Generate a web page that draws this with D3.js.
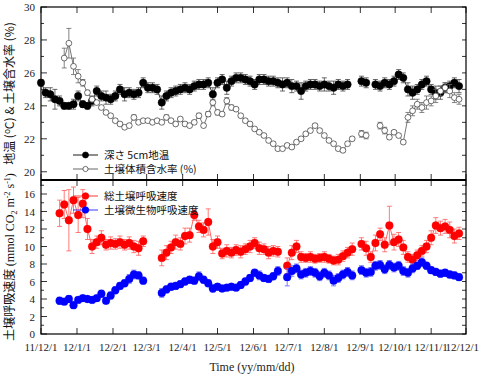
<!DOCTYPE html>
<html>
<head>
<meta charset="utf-8">
<script src="https://cdn.jsdelivr.net/npm/d3@7"></script>
<style>
  body { margin: 0; background: #fff; }
  .num { font-family: "Liberation Serif", "Times New Roman", serif; font-size: 11px; fill: #222; }
  .jp { font-family: "Noto Sans CJK JP", sans-serif; font-size: 10.5px; fill: #111; }
</style>
</head>
<body>
<div id="chart"></div>
<script>
// samples every 4 days, day 0 = 2011/12/1
const STEP = 4;
const xTickLabels = ['11/12/1','12/1/1','12/2/1','12/3/1','12/4/1','12/5/1','12/6/1',
    '12/7/1','12/8/1','12/9/1','12/10/1','12/11/1','12/12/1'];
const topTicks = [20, 22, 24, 26, 28, 30];
const botTicks = [0, 2, 4, 6, 8, 10, 12, 14, 16];

// 深さ 5cm地温 (starts at sample 0)
const tempStart = 0;
const tempVals = [25.4, 24.8, 24.7, 24.4, 24.3, 24.0, 24.0, 24.1, 24.6, 24.1,
    24.0, 24.3, 24.9, 24.6, 24.5, 24.4, 24.6, 25.0, 24.7, 24.8,
    24.7, 24.8, 25.4, 25.1, 25.1, 25.0, 24.2, 24.6, 24.8, 24.9,
    25.0, 25.1, 25.0, 25.2, 25.3, 25.3, 25.4, 24.7, 25.4, 25.6,
    25.1, 25.5, 25.7, 25.7, 25.6, 25.5, 25.3, 25.6, 25.6, 25.5,
    25.5, 25.4, 25.3, 25.4, 25.2, 25.2, 24.9, 25.2, 25.3, 25.3,
    25.2, 25.3, 25.2, 25.1, 25.3, 25.2, 25.3, null, null, 25.5,
    25.4, null, 25.3, 25.2, 25.4, 25.3, 25.5, 25.9, 25.7, 25.0,
    24.8, 25.0, 25.3, 25.5, 25.0, 24.8, 24.8, 25.1, 25.2, 25.4, 25.2];
const tempErr = [0.2, 0.3, 0.4, 0.6, 0.3, 0.2, 0.2, 0.3, 0.3, 0.2,
    0.2, 0.3, 0.3, 0.3, 0.4, 0.3, 0.3, 0.3, 0.4, 0.3,
    0.3, 0.3, 0.3, 0.3, 0.3, 0.3, 0.4, 0.3, 0.3, 0.3,
    0.3, 0.3, 0.3, 0.3, 0.3, 0.3, 0.3, 0.4, 0.3, 0.3,
    0.4, 0.3, 0.3, 0.3, 0.3, 0.3, 0.3, 0.3, 0.3, 0.3,
    0.3, 0.3, 0.4, 0.3, 0.4, 0.3, 0.5, 0.3, 0.3, 0.3,
    0.3, 0.4, 0.3, 0.4, 0.3, 0.3, 0.3, null, null, 0.3,
    0.3, null, 0.3, 0.3, 0.3, 0.3, 0.3, 0.3, 0.3, 0.4,
    0.4, 0.3, 0.3, 0.3, 0.3, 0.4, 0.4, 0.3, 0.3, 0.3, 0.4];

// 土壌体積含水率 (starts at sample 5)
const moistStart = 5;
const moistVals = [26.9, 27.8, 26.4, 25.8, 25.4,
    24.8, 24.4, 24.2, 23.9, 23.6, 23.4, 23.1, 22.9, 22.7, 22.8,
    23.3, 23.0, 23.1, 23.1, 23.0, 23.1, 23.0, 23.3, 23.1, 22.9,
    23.2, 22.9, 22.8, 23.0, 23.4, 22.8, 23.5, 24.2, 23.6, 23.5,
    24.3, 23.9, 23.8, 23.4, 23.1, 22.9, 22.6, 22.4, 22.2, 21.9,
    21.7, 21.4, 21.4, 21.6, 21.5, 21.8, 22.0, 22.3, 22.5, 22.8,
    22.5, 22.2, 21.9, 21.7, 21.4, 21.3, 21.7, 22.0, null, 22.3,
    22.2, null, null, 22.8, 22.5, 22.1, 22.4, 22.2, 21.8, 23.3,
    23.7, 24.1, 23.9, 24.2, 24.3, 24.6, 24.9, 25.1, 24.9, 24.5, 24.4];
const moistErr = [0.6, 0.9, 0.5, 0.4, 0.2,
    0.15, 0.15, 0.1, 0.1, 0.1, 0.1, 0.1, 0.1, 0.1, 0.1,
    0.15, 0.1, 0.1, 0.1, 0.1, 0.1, 0.1, 0.15, 0.1, 0.1,
    0.1, 0.1, 0.1, 0.1, 0.15, 0.1, 0.15, 0.2, 0.15, 0.1,
    0.2, 0.15, 0.1, 0.1, 0.1, 0.1, 0.1, 0.1, 0.1, 0.1,
    0.1, 0.1, 0.1, 0.1, 0.1, 0.1, 0.1, 0.1, 0.1, 0.1,
    0.1, 0.1, 0.1, 0.1, 0.1, 0.1, 0.1, 0.1, null, 0.2,
    0.2, null, null, 0.2, 0.2, 0.1, 0.1, 0.1, 0.1, 0.3,
    0.3, 0.3, 0.3, 0.4, 0.3, 0.4, 0.3, 0.3, 0.4, 0.3, 0.3];

// 総土壌呼吸速度 (starts at sample 4)
const totalStart = 4;
const totalVals = [13.8, 14.8, 13.0, 15.3, 13.6, 14.9,
    12.0, 10.0, 10.5, 11.0, 10.2, 10.4, 10.3, 10.5, 10.2, 10.4,
    10.0, 9.8, 10.6, null, null, null, 8.7, 9.3, 9.9, 10.5,
    10.3, 11.2, 11.3, 13.6, 12.3, 11.9, 12.8, 10.0, 10.5, 9.2,
    9.5, 9.3, 9.6, 9.4, 9.7, 10.0, 10.4, 9.8, 9.7, 9.3,
    9.5, 9.4, null, 7.8, 9.3, 10.0, 8.8, 8.7, 8.8, 8.6,
    8.7, 8.8, 8.6, 8.4, 8.5, 8.9, 9.3, 9.7, null, 10.3,
    9.8, 8.8, 10.4, 11.4, 10.2, 12.4, 10.5, 10.8, 9.9, 8.8,
    8.5, 9.0, 9.5, 10.0, 11.0, 12.4, 12.1, 12.3, 11.9, 11.2, 11.5];
const totalErr = [1.5, 1.6, 3.5, 1.5, 2.0, 1.6,
    1.2, 0.8, 0.7, 0.8, 0.6, 0.7, 0.6, 0.7, 0.6, 0.7,
    0.7, 0.8, 0.6, null, null, null, 0.9, 0.8, 0.7, 0.8,
    0.7, 0.9, 0.8, 0.6, 0.7, 0.8, 1.5, 0.8, 0.7, 0.6,
    0.7, 0.6, 0.6, 0.7, 0.6, 0.7, 0.6, 0.7, 0.6, 0.7,
    0.6, 0.6, null, 0.9, 0.8, 0.7, 0.6, 0.5, 0.6, 0.5,
    0.5, 0.6, 0.5, 0.5, 0.6, 0.6, 0.6, 0.7, null, 0.7,
    0.8, 0.6, 0.9, 0.7, 0.8, 2.2, 0.9, 0.8, 0.8, 0.6,
    0.6, 0.6, 0.6, 0.7, 0.8, 0.9, 0.8, 0.8, 0.9, 0.8, 0.7];

// 土壌微生物呼吸速度 (starts at sample 4)
const microStart = 4;
const microVals = [3.8, 3.7, 4.0, 3.3, 3.9, 4.1,
    4.0, 3.9, 4.1, 4.6, 3.8, 4.4, 5.0, 5.5, 5.8, 6.3,
    6.8, 6.7, 6.1, null, null, null, 4.7, 5.1, 5.4, 5.5,
    5.7, 6.0, 6.2, 6.1, 6.6, 6.2, 5.8, 5.2, 5.4, 5.2,
    5.3, 5.4, 5.3, 5.6, 6.0, 6.4, 7.0, 6.7, 6.4, 6.3,
    6.6, 7.2, null, 6.5, 7.2, 7.5, 6.8, 7.0, 7.2, 7.0,
    6.6, 7.0, 6.7, 6.1, 6.4, 6.8, 7.1, 6.7, null, 7.3,
    7.0, 7.1, 7.8, 7.9, 7.4, 7.9, 7.6, 7.8, 7.2, 7.0,
    7.5, 7.8, 8.2, 7.8, 7.3, 7.1, 6.9, 7.0, 6.8, 6.7, 6.5];
const microErr = [0.4, 0.3, 0.4, 0.4, 0.3, 0.3,
    0.3, 0.3, 0.3, 0.4, 0.3, 0.4, 0.4, 0.4, 0.4, 0.5,
    0.5, 0.4, 0.4, null, null, null, 0.5, 0.4, 0.4, 0.4,
    0.4, 0.4, 0.4, 0.4, 0.5, 0.4, 0.4, 0.4, 0.3, 0.3,
    0.3, 0.3, 0.3, 0.4, 0.4, 0.4, 0.4, 0.5, 0.4, 0.4,
    0.4, 0.5, null, 1.0, 0.6, 0.5, 0.5, 0.5, 0.5, 0.5,
    0.5, 0.5, 0.5, 0.6, 0.5, 0.5, 0.5, 0.5, null, 0.5,
    0.5, 0.5, 0.5, 0.5, 0.5, 0.5, 0.5, 0.5, 0.5, 0.5,
    0.5, 0.4, 0.5, 0.4, 0.4, 0.4, 0.4, 0.4, 0.4, 0.4, 0.4];

const W = 480, H = 375;
const plotL = 41, plotR = 466, plotT = 7, plotMid = 180, plotB = 334;
const day0 = new Date(2011, 11, 1);

const svg = d3.select('#chart').append('svg')
    .attr('width', W)
    .attr('height', H);

const x = d3.scaleTime()
    .domain([day0, new Date(2012, 11, 1)])
    .range([plotL, plotR]);

const yTop = d3.scaleLinear().domain([19.5, 30]).range([plotMid, plotT]);
const yBot = d3.scaleLinear().domain([0, 17.6]).range([plotB, plotMid]);

function toPoints(start, vals, errs) {
    return vals.map((v, i) => ({
        date: d3.timeDay.offset(day0, (start + i) * STEP),
        v: v,
        e: errs[i]
    }));
}

function drawSeries(y, pts, opt) {
    let g = svg.append('g');
    let ok = pts.filter(d => d.v != null);

    g.append('path')
        .datum(pts)
        .attr('fill', 'none')
        .attr('stroke', opt.line)
        .attr('stroke-width', 0.8)
        .attr('d', d3.line().defined(d => d.v != null).x(d => x(d.date)).y(d => y(d.v)));

    let eb = g.append('g')
        .attr('stroke', opt.err)
        .attr('stroke-width', 0.8);
    eb.selectAll('line.v')
        .data(ok)
        .join('line')
            .attr('class', 'v')
            .attr('x1', d => x(d.date)).attr('x2', d => x(d.date))
            .attr('y1', d => y(d.v - d.e)).attr('y2', d => y(d.v + d.e));
    eb.selectAll('line.hi')
        .data(ok)
        .join('line')
            .attr('class', 'hi')
            .attr('x1', d => x(d.date) - 2.5).attr('x2', d => x(d.date) + 2.5)
            .attr('y1', d => y(d.v + d.e)).attr('y2', d => y(d.v + d.e));
    eb.selectAll('line.lo')
        .data(ok)
        .join('line')
            .attr('class', 'lo')
            .attr('x1', d => x(d.date) - 2.5).attr('x2', d => x(d.date) + 2.5)
            .attr('y1', d => y(d.v - d.e)).attr('y2', d => y(d.v - d.e));

    g.selectAll('circle')
        .data(ok)
        .join('circle')
            .attr('cx', d => x(d.date))
            .attr('cy', d => y(d.v))
            .attr('r', opt.r)
            .attr('fill', opt.fill)
            .attr('stroke', opt.stroke)
            .attr('stroke-width', opt.sw);
}

// data
drawSeries(yTop, toPoints(tempStart, tempVals, tempErr),
    {line: '#000', err: '#444', r: 3.7, fill: '#000', stroke: '#000', sw: 0.5});
drawSeries(yTop, toPoints(moistStart, moistVals, moistErr),
    {line: '#555', err: '#666', r: 2.9, fill: '#fff', stroke: '#333', sw: 0.7});
drawSeries(yBot, toPoints(totalStart, totalVals, totalErr),
    {line: '#ff4040', err: '#ff5a5a', r: 3.9, fill: '#ff0000', stroke: '#ff0000', sw: 0.3});
drawSeries(yBot, toPoints(microStart, microVals, microErr),
    {line: '#4040ff', err: '#5a5aff', r: 3.9, fill: '#0000ff', stroke: '#0000ff', sw: 0.3});

// axes
const months = d3.timeMonth.range(day0, new Date(2012, 11, 2));

function xTicks(yPos, dir) {
    svg.append('g')
        .selectAll('line')
        .data(months)
        .join('line')
            .attr('x1', d => x(d)).attr('x2', d => x(d))
            .attr('y1', yPos).attr('y2', yPos + dir * 6)
            .attr('stroke', '#000')
            .attr('stroke-width', 0.8);
}
xTicks(plotT, 1);
xTicks(plotMid, -1);
xTicks(plotMid, 1);
xTicks(plotB, -1);

// last label is pushed against the right edge, as in the source
svg.append('g')
    .selectAll('text')
    .data(months)
    .join('text')
        .attr('class', 'num')
        .attr('x', (d, i) => i === months.length - 1 ? 479 : x(d))
        .attr('y', plotB + 17)
        .attr('text-anchor', (d, i) => i === months.length - 1 ? 'end' : 'middle')
        .text((d, i) => xTickLabels[i]);

function yAxis(y, major, lo, hi) {
    let minor = d3.range(lo, hi + 1).filter(v => !major.includes(v));
    let g = svg.append('g');
    g.selectAll('line.mj')
        .data(major)
        .join('line')
            .attr('class', 'mj')
            .attr('x1', plotL).attr('x2', plotL + 6)
            .attr('y1', d => y(d)).attr('y2', d => y(d));
    g.selectAll('line.mn')
        .data(minor)
        .join('line')
            .attr('class', 'mn')
            .attr('x1', plotL).attr('x2', plotL + 3)
            .attr('y1', d => y(d)).attr('y2', d => y(d));
    g.selectAll('line.rt')
        .data(major.concat(minor))
        .join('line')
            .attr('class', 'rt')
            .attr('x1', plotR).attr('x2', plotR - 4)
            .attr('y1', d => y(d)).attr('y2', d => y(d));
    g.selectAll('line').attr('stroke', '#000').attr('stroke-width', 0.8);
    g.selectAll('text')
        .data(major)
        .join('text')
            .attr('class', 'num')
            .attr('x', plotL - 6)
            .attr('y', d => y(d) + 4)
            .attr('text-anchor', 'end')
            .text(d => d);
}
yAxis(yTop, topTicks, 20, 29);
yAxis(yBot, botTicks, 0, 17);

// frames
svg.append('rect')
    .attr('x', plotL).attr('y', plotT)
    .attr('width', plotR - plotL).attr('height', plotB - plotT)
    .attr('fill', 'none').attr('stroke', '#000').attr('stroke-width', 1.2);
svg.append('line')
    .attr('x1', plotL).attr('x2', plotR)
    .attr('y1', plotMid).attr('y2', plotMid)
    .attr('stroke', '#000').attr('stroke-width', 1.8);

// legends
function legendRow(yPos, label, opt) {
    svg.append('line')
        .attr('x1', 73).attr('x2', 98)
        .attr('y1', yPos).attr('y2', yPos)
        .attr('stroke', opt.line).attr('stroke-width', 0.9);
    svg.append('circle')
        .attr('cx', 85.5).attr('cy', yPos).attr('r', opt.r)
        .attr('fill', opt.fill).attr('stroke', opt.stroke).attr('stroke-width', 0.7);
    svg.append('text')
        .attr('class', 'jp')
        .attr('x', 104).attr('y', yPos + 4)
        .text(label);
}
legendRow(155, '深さ 5cm地温', {line: '#000', r: 3, fill: '#000', stroke: '#000'});
legendRow(169, '土壌体積含水率 (%)', {line: '#555', r: 2.6, fill: '#fff', stroke: '#333'});
legendRow(196, '総土壌呼吸速度', {line: '#ff2020', r: 3.3, fill: '#ff0000', stroke: '#ff0000'});
legendRow(210, '土壌微生物呼吸速度', {line: '#2020ff', r: 3.3, fill: '#0000ff', stroke: '#0000ff'});

// axis titles
let t1 = svg.append('text')
    .attr('class', 'jp')
    .attr('transform', `translate(14, ${(plotT + plotMid) / 2}) rotate(-90)`)
    .attr('text-anchor', 'middle')
    .style('font-size', '12px');
t1.append('tspan').text('地温 (');
t1.append('tspan').attr('dy', -4).style('font-size', '8px').text('o');
t1.append('tspan').attr('dy', 4).text('C) & 土壌含水率 (%)');

const serif = '"Liberation Serif", serif';
let t2 = svg.append('text')
    .attr('class', 'jp')
    .attr('transform', `translate(14, ${(plotMid + plotB) / 2}) rotate(-90)`)
    .attr('text-anchor', 'middle')
    .style('font-size', '12px');
t2.append('tspan').text('土壌呼吸速度 ');
t2.append('tspan').style('font-family', serif).text('(mmol CO');
t2.append('tspan').style('font-family', serif).style('font-size', '8px').attr('dy', 3).text('2');
t2.append('tspan').style('font-family', serif).attr('dy', -3).text(' m');
t2.append('tspan').style('font-family', serif).style('font-size', '8px').attr('dy', -4).text('-2');
t2.append('tspan').style('font-family', serif).attr('dy', 4).text(' s');
t2.append('tspan').style('font-family', serif).style('font-size', '8px').attr('dy', -4).text('-1');
t2.append('tspan').style('font-family', serif).attr('dy', 4).text(')');

svg.append('text')
    .attr('class', 'num')
    .attr('x', 252).attr('y', 371)
    .attr('text-anchor', 'middle')
    .style('font-size', '12px')
    .text('Time (yy/mm/dd)');
</script>
</body>
</html>
